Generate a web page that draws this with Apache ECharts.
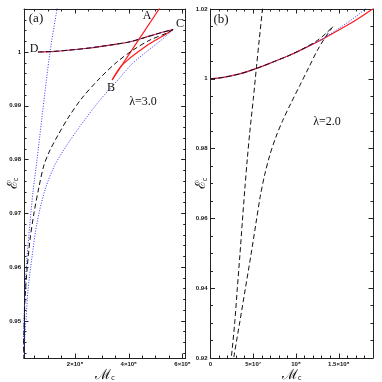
<!DOCTYPE html>
<html><head><meta charset="utf-8">
<script src="https://cdn.jsdelivr.net/npm/echarts@6/dist/echarts.min.js"></script>
<style>html,body{margin:0;padding:0;background:#fff}#c{width:382px;height:382px}</style>
</head><body><div id="c"></div>
<script>
// ---------- Panel (a), lambda = 3.0 ----------
const aUpper = [[62000,1.0000],[125000,1.00013],[181000,1.00037],[237000,1.00065],[293000,1.00102],[349000,1.00143],[405000,1.00191],[460000,1.00270],[516000,1.00353],[565000,1.00418]];
const aRedLower = [[565000,1.00418],[527000,1.00297],[479000,1.00158],[442000,1.00028],[405000,0.99888],[367000,0.99712],[338000,0.99480]];
const aRedBA = [[338000,0.99480],[423000,1.00124],[513000,1.00800],[535000,1.00967]];
const aBlackLower = [[565000,1.00418],[542000,1.00353],[479000,1.00223],[416000,1.00037],[356000,0.99814],[293000,0.99517],[226000,0.99145],[174000,0.98773],[137000,0.98457],[107000,0.98178],[84500,0.97900],[65800,0.97491],[47200,0.97007],[32300,0.96506],[21200,0.95948],[13700,0.95390],[10000,0.94833],[6300,0.94312],[2600,0.93996]];
const aBlueLower = [[565000,1.00418],[535000,1.00279],[479000,1.00056],[416000,0.99796],[356000,0.99461],[293000,0.99108],[230000,0.98699],[170000,0.98271],[125000,0.97900],[88200,0.97435],[58400,0.96822],[39800,0.96190],[24900,0.95576],[17400,0.95019],[10000,0.94461],[6300,0.94182]];
const aBlueSteep = [[138400,1.00967],[132900,1.00800],[106800,1.00000],[77000,0.98792],[58400,0.97993],[43500,0.97400],[32300,0.96822],[21200,0.96190],[13700,0.95576],[10000,0.95019],[6300,0.94460]];
const aXTicks = [200000,400000,600000];
const aXTickLabels = ['2×10⁵','4×10⁵','6×10⁵'];
const aYTicks = [0.95,0.96,0.97,0.98,0.99,1.00];
const aYTickLabels = ['0.95','0.96','0.97','0.98','0.99','1'];

// ---------- Panel (b), lambda = 2.0 ----------
const bRed = [[0,1.0],[1.5e7,1.0004],[3.4e7,1.0014],[5.4e7,1.0030],[7.3e7,1.0048],[9.3e7,1.0068],[1.12e8,1.0090],[1.32e8,1.0115],[1.51e8,1.0141],[1.71e8,1.0170],[1.9e8,1.0201]];
const bBlue = [[0,1.0],[1.5e7,1.0004],[3.4e7,1.0014],[5.4e7,1.0030],[7.3e7,1.0048],[9.3e7,1.0068],[1.12e8,1.0090],[1.32e8,1.0116],[1.51e8,1.0146],[1.71e8,1.0180],[1.805e8,1.0200],[1.82e8,1.0205]];
const bDashUpper = [[0,1.0],[1.5e7,1.0004],[3.4e7,1.0014],[5.4e7,1.0030],[7.3e7,1.0048],[9.3e7,1.0068],[1.12e8,1.0091],[1.25e8,1.0110],[1.35e8,1.0130],[1.43e8,1.01494]];
const bDashLower = [[1.43e8,1.01494],[1.348e8,1.01209],[1.254e8,1.00837],[1.149e8,1.00323],[1.044e8,0.99809],[9.39e7,0.99294],[8.45e7,0.98809],[7.63e7,0.98323],[6.93e7,0.97809],[6.35e7,0.97266],[5.82e7,0.96637],[5.30e7,0.95837],[4.71e7,0.94923],[4.07e7,0.93980],[3.43e7,0.93037],[2.76e7,0.92066],[2.67e7,0.91837]];
const bDashLeft = [[2.31e7,0.91837],[2.455e7,0.92066],[2.84e7,0.93037],[3.13e7,0.93980],[3.43e7,0.94923],[3.72e7,0.95894],[4.01e7,0.96837],[4.30e7,0.97694],[4.59e7,0.98466],[5.00e7,0.99409],[5.38e7,1.00351],[5.70e7,1.01123],[6.08e7,1.02009],[6.17e7,1.02240]];
const bXTicks = [0,5e7,1e8,1.5e8];
const bXTickLabels = ['0','5×10⁷','10⁸','1.5×10⁸'];
const bYTicks = [0.92,0.94,0.96,0.98,1.00,1.02];
const bYTickLabels = ['0.92','0.94','0.96','0.98','1','1.02'];

function range(a, b, step) { const r = []; for (let v = a; v <= b + step * 1e-6; v += step) r.push(+v.toPrecision(10)); return r; }
const aXMinor = range(50000, 600000, 50000);
const aYMinor = range(0.944, 1.008, 0.002);
const bXMinor = range(0, 1.8e8, 1e7);
const bYMinor = range(0.92, 1.02, 0.005);

const AX = '#222';
const lblFont = { fontSize: 6, fontWeight: 'bold', fontFamily: 'Liberation Sans', color: '#111' };
function fmt(ticks, labels) { return v => { const i = ticks.findIndex(t => Math.abs(t - v) < 1e-9 * Math.max(1, Math.abs(t))); return i >= 0 ? labels[i] : ''; }; }

function axisSet(kind, gi, min, max, ticks, labels, minor, name, nameGap) {
  const sides = kind === 'x' ? ['bottom', 'top'] : ['left', 'right'];
  const out = [];
  sides.forEach((pos, si) => {
    out.push({
      type: 'value', gridIndex: gi, position: pos, min, max, scale: true,
      name: si === 0 ? name : '', nameLocation: 'middle', nameGap: nameGap, nameMoveOverlap: false,
      nameTextStyle: { rich: { m: { fontSize: 14, fontFamily: 'DejaVu Serif', color: '#111' }, s: { fontSize: 7, fontFamily: 'DejaVu Sans', color: '#111', verticalAlign: 'bottom', padding: [6, 0, 0, 0] } } },
      axisLine: { show: true, onZero: false, lineStyle: { color: AX, width: 1 } },
      axisTick: { show: true, inside: true, length: 4.5, customValues: ticks, lineStyle: { color: AX, width: 1 } },
      axisLabel: Object.assign({ show: si === 0, margin: 3, customValues: ticks, formatter: fmt(ticks, labels) }, lblFont),
      splitLine: { show: false }
    });
    out.push({
      type: 'value', gridIndex: gi, position: pos, min, max, scale: true,
      axisLine: { show: false, onZero: false },
      axisTick: { show: true, inside: true, length: 2.5, customValues: minor, lineStyle: { color: AX, width: 1 } },
      axisLabel: { show: false }, splitLine: { show: false }
    });
  });
  return out;
}

const xAxes = [].concat(
  axisSet('x', 0, 10000, 612000, aXTicks, aXTickLabels, aXMinor, '{m|ℳ}{s|c}', 10),
  axisSet('x', 1, 0, 1.9e8, bXTicks, bXTickLabels, bXMinor, '{m|ℳ}{s|c}', 10)
);
const yAxes = [].concat(
  axisSet('y', 0, 0.9431, 1.008, aYTicks, aYTickLabels, aYMinor, '{m|ℰ}{s|c}', 4),
  axisSet('y', 1, 0.92, 1.02, bYTicks, bYTickLabels, bYMinor, '{m|ℰ}{s|c}', 2)
);

const RED = '#ff1a1a', BLUE = '#3333ff', BLACK = '#111';
function line(data, xi, yi, color, type, width, z, smooth) {
  return { type: 'line', data, xAxisIndex: xi, yAxisIndex: yi, showSymbol: false, symbol: 'none', clip: true, z,
    smooth: smooth || false, lineStyle: { color, type, width }, animation: false, silent: true };
}
const dash = [5, 3], dot = [1, 1.6];

const series = [
  line(aUpper, 0, 0, RED, 'solid', 1.2, 2, 0.3),
  line(aRedLower, 0, 0, RED, 'solid', 1.2, 2, 0.3),
  line(aRedBA, 0, 0, RED, 'solid', 1.2, 2, 0),
  line(aUpper, 0, 0, BLUE, dot, 1, 3, 0.3),
  line(aBlueLower, 0, 0, BLUE, dot, 1, 3, 0.3),
  line(aBlueSteep, 0, 0, BLUE, dot, 1, 3, 0.3),
  line(aUpper, 0, 0, BLACK, dash, 1, 4, 0.3),
  line(aBlackLower, 0, 0, BLACK, dash, 1, 4, 0.3),
  line(bRed, 4, 4, RED, 'solid', 1.2, 2, 0.3),
  line(bBlue, 4, 4, BLUE, dot, 1, 3, 0.3),
  line(bDashUpper, 4, 4, BLACK, dash, 1, 4, 0.3),
  line(bDashLower, 4, 4, BLACK, dash, 1, 4, 0.3),
  line(bDashLeft, 4, 4, BLACK, dash, 1, 4, 0.3)
];

function txt(x, y, s, size) {
  return { type: 'text', x, y, style: { text: s, fontSize: size, fontFamily: 'Liberation Serif', fill: '#111', align: 'center', verticalAlign: 'middle' }, z: 10 };
}

const chart = echarts.init(document.getElementById('c'), null, { renderer: 'canvas' });
chart.setOption({
  animation: false,
  backgroundColor: '#fff',
  grid: [
    { left: 24, top: 9, right: 196.3, bottom: 24, containLabel: false, outerBoundsMode: 'none' },
    { left: 210.5, top: 9, right: 9, bottom: 24, containLabel: false, outerBoundsMode: 'none' }
  ],
  xAxis: xAxes,
  yAxis: yAxes,
  series,
  graphic: [
    txt(36, 19, '(a)', 13), txt(221, 20, '(b)', 13),
    txt(147, 16, 'A', 12), txt(180, 24, 'C', 12), txt(34, 49, 'D', 12), txt(111, 88, 'B', 12),
    txt(143, 102, 'λ=3.0', 12), txt(327, 122, 'λ=2.0', 12)
  ]
});
</script></body></html>
